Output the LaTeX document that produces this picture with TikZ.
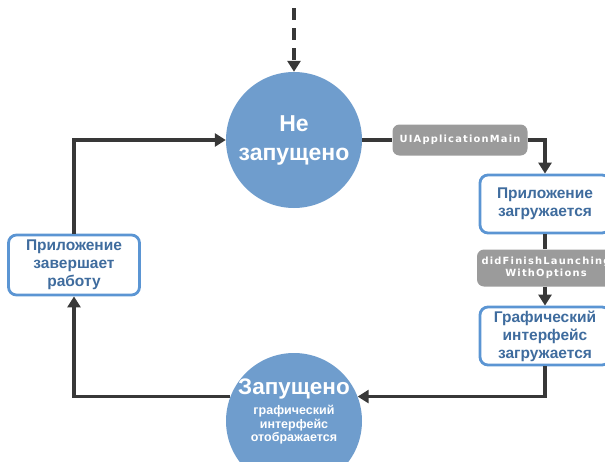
\documentclass[tikz,border=0pt]{standalone}
\usepackage{fontspec}
\setmainfont{Liberation Sans}
\newfontfamily\tagfont[LetterSpace=12]{DejaVu Sans}
\usetikzlibrary{arrows.meta,calc}
\definecolor{circfill}{HTML}{6F9DCD}
\definecolor{boxline}{HTML}{5B95D3}
\definecolor{boxtext}{HTML}{3F6C9E}
\definecolor{tagfill}{HTML}{9B9B9B}
\definecolor{linecol}{HTML}{383838}
\tikzset{
  x=1pt,y=-1pt,
  statecirc/.style={circle,fill=circfill,minimum size=136pt,inner sep=0pt,text=white,font=\bfseries},
  stagebox/.style={draw=boxline,line width=2.8pt,rounded corners=8pt,fill=white,text=boxtext,
    font=\bfseries\fontsize{15.5}{18}\selectfont,align=center,inner sep=0pt},
  tagbox/.style={fill=tagfill,rounded corners=7pt,text=white,
    font=\tagfont\bfseries\fontsize{9.9}{12.5}\selectfont,align=center,inner sep=0pt},
  conn/.style={draw=linecol,line width=3.5pt},
  arr/.style={conn,-{Triangle[length=11pt,width=13pt]}},
}
\begin{document}
\begin{tikzpicture}
\useasboundingbox (0,0) rectangle (605,461);
% states
\node[statecirc,font=\bfseries\fontsize{23}{29}\selectfont,align=center] (ns) at (294,140) {Не\\запущено};
\node[statecirc] (run) at (294,421) {};
\node[text=white,align=center,font=\bfseries\fontsize{22.5}{24}\selectfont] (runtitle) at (294,389) {Запущено};
\node[text=white,align=center,font=\bfseries\fontsize{12.5}{13.5}\selectfont] (runsub) at (294,425) {графический\\интерфейс\\отображается};
% boxes
\node[stagebox,minimum width=130pt,minimum height=58pt] (load) at (545,204) {Приложение\\загружается};
\node[stagebox,minimum width=130pt,minimum height=58pt] (gui) at (545,336) {Графический\\интерфейс\\загружается};
\node[stagebox,minimum width=131pt,minimum height=60pt] (fin) at (74,265) {Приложение\\завершает\\работу};
% tags
\node[tagbox,minimum width=135pt,minimum height=31pt] (uia) at (460,140) {UIApplicationMain};
\node[tagbox,minimum width=138pt,minimum height=37pt] (dfl) at (546,268) {didFinishLaunching\\WithOptions};
% connectors
\coordinate (entry) at (294,8);
\draw[arr,dash pattern=on 12pt off 8pt] (entry) -- (ns.north);
\draw[conn] (ns.east) -- (uia.west);
\draw[arr] (uia.east) -| (load.north);
\draw[conn] (load.south) -- (dfl.north -| load.south);
\draw[arr] (dfl.south -| gui.north) -- (gui.north);
\draw[arr] (gui.south) |- (run.21);
\draw[arr] (run.159) -| (fin.south);
\draw[arr] (fin.north) |- (ns.west);
\end{tikzpicture}
\end{document}
